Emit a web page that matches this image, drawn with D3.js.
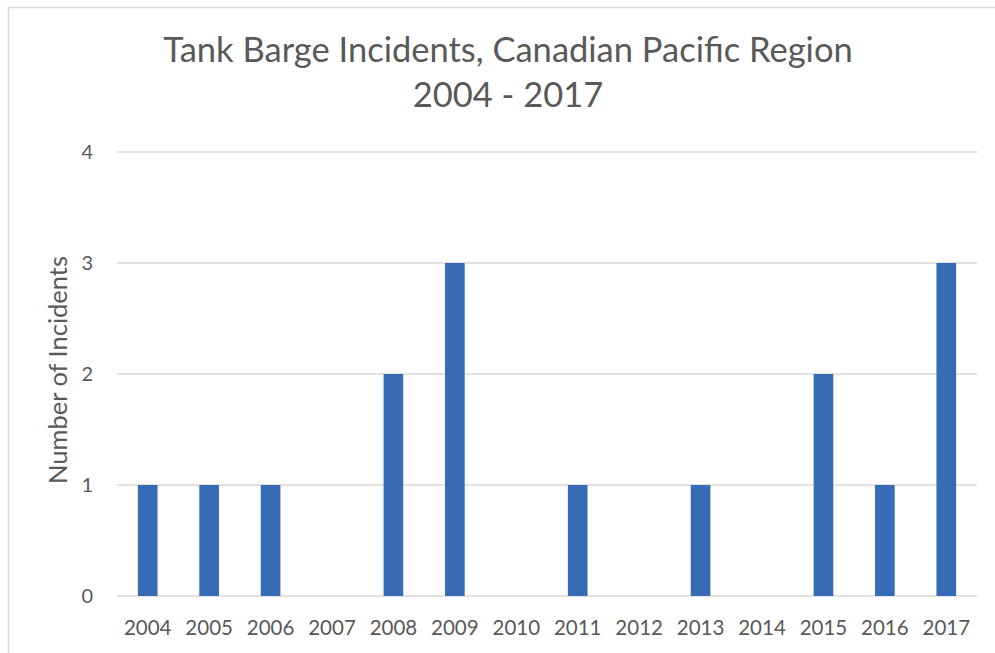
<!DOCTYPE html>
<html>
<head>
<meta charset="utf-8">
<script src="https://cdn.jsdelivr.net/npm/d3@7"></script>
<style>
  body { margin: 0; background: #fff; }
  svg { display: block; }
</style>
</head>
<body>
<svg width="995" height="653"></svg>
<script>
// data
const years = ["2004", "2005", "2006", "2007", "2008", "2009", "2010",
               "2011", "2012", "2013", "2014", "2015", "2016", "2017"];
const incidents = [1, 1, 1, 0, 2, 3, 0, 1, 0, 1, 0, 2, 1, 3];
const yTicks = [0, 1, 2, 3, 4];
const titleLines = ["Tank Barge Incidents, Canadian Pacific Region", "2004 - 2017"];

const width = 995, height = 653;
const margin = {top: 152, right: 18, bottom: 57, left: 117};
const font = "Lato, 'Open Sans', sans-serif";
const textColor = "#595959";

const svg = d3.select("svg");

// frame line at top and left like the original screenshot
svg.append("path")
  .attr("d", `M8.5,${height} V7.5 H${width}`)
  .attr("fill", "none")
  .attr("stroke", "#d9d9d9")
  .attr("stroke-width", 1.5);

const x = d3.scaleBand()
  .domain(years)
  .range([margin.left, width - margin.right])
  .paddingInner(0.68)
  .paddingOuter(0.34);

const y = d3.scaleLinear()
  .domain([0, 4])
  .range([height - margin.bottom, margin.top]);

// gridlines
svg.append("g")
  .selectAll("line")
  .data(yTicks)
  .join("line")
    .attr("x1", margin.left)
    .attr("x2", width - margin.right)
    .attr("y1", d => y(d))
    .attr("y2", d => y(d))
    .attr("stroke", "#d9d9d9")
    .attr("stroke-width", 1.5);

// bars
svg.append("g")
  .selectAll("rect")
  .data(years.map((yr, i) => ({yr, v: incidents[i]})))
  .join("rect")
    .attr("x", d => x(d.yr))
    .attr("y", d => y(d.v))
    .attr("width", x.bandwidth())
    .attr("height", d => y(0) - y(d.v))
    .attr("fill", "#376bb5");

// y axis
const yAxis = svg.append("g")
  .attr("transform", `translate(${margin.left},0)`)
  .call(d3.axisLeft(y).tickValues(yTicks).tickFormat(d3.format("d")).tickSize(0).tickPadding(24));
yAxis.select(".domain").remove();
yAxis.selectAll("text")
  .attr("font-family", font)
  .attr("font-size", 20)
  .attr("fill", textColor);

// x axis
const xAxis = svg.append("g")
  .attr("transform", `translate(0,${height - margin.bottom})`)
  .call(d3.axisBottom(x).tickSize(0).tickPadding(24));
xAxis.select(".domain").remove();
xAxis.selectAll("text")
  .attr("font-family", font)
  .attr("font-size", 20.5)
  .attr("fill", textColor);

// axis title
svg.append("text")
  .attr("transform", `translate(67,370) rotate(-90)`)
  .attr("text-anchor", "middle")
  .attr("font-family", font)
  .attr("font-size", 25.5)
  .attr("fill", textColor)
  .text("Number of Incidents");

// chart title
svg.append("g")
  .selectAll("text")
  .data(titleLines)
  .join("text")
    .attr("x", 508)
    .attr("y", (d, i) => 62 + i * 45)
    .attr("text-anchor", "middle")
    .attr("font-family", font)
    .attr("font-size", 34.5)
    .attr("fill", textColor)
    .text(d => d);
</script>
</body>
</html>
